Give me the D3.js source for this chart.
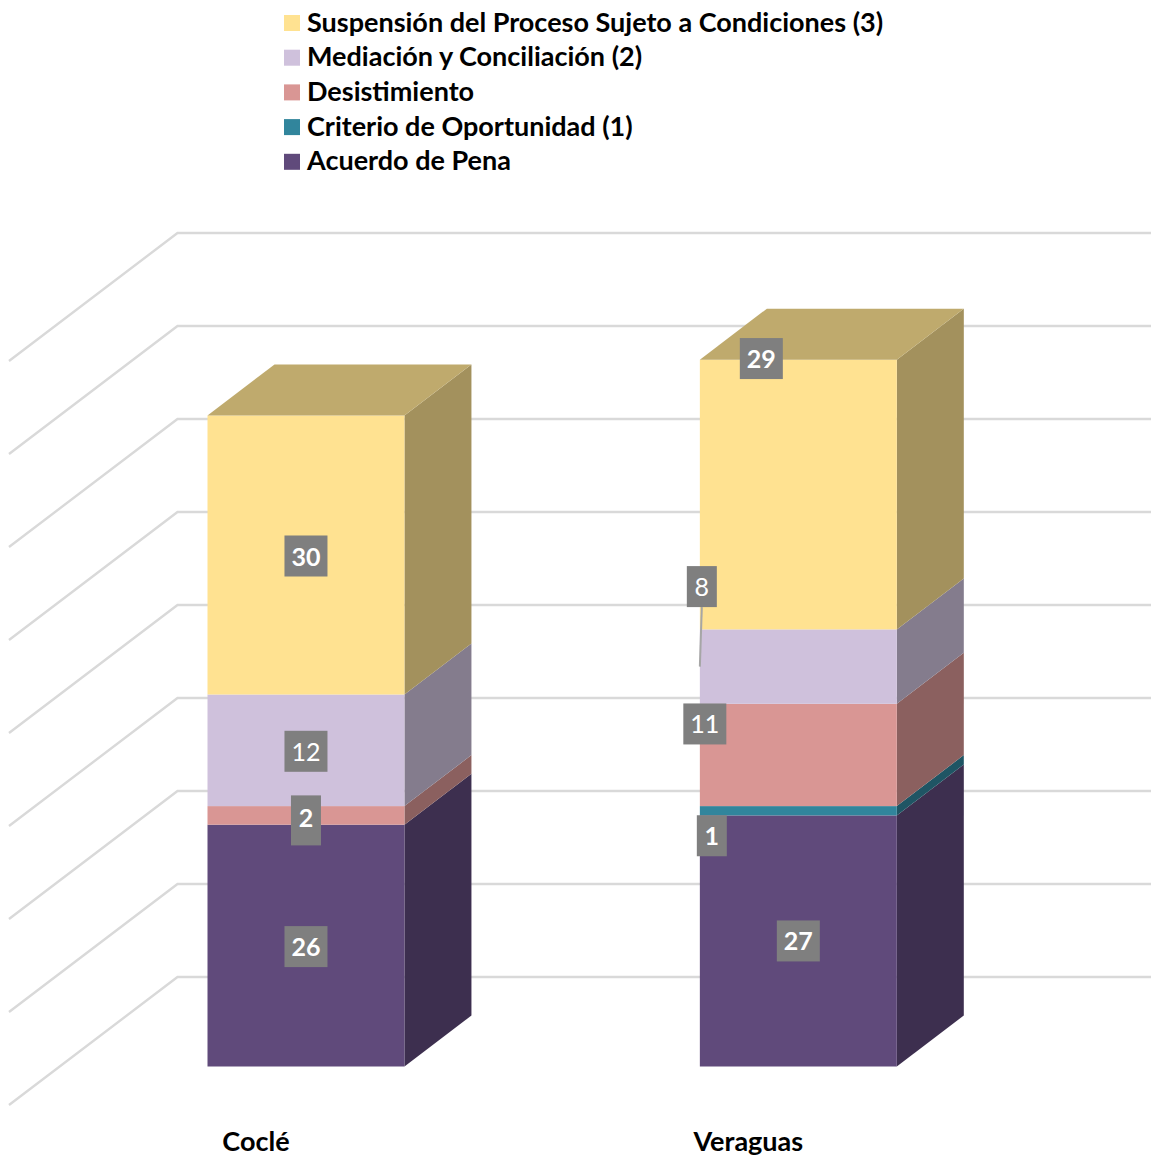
<!DOCTYPE html>
<html><head><meta charset="utf-8">
<style>html,body{margin:0;padding:0;background:#fff}svg{display:block}text{font-family:Lato,"Open Sans",sans-serif}</style>
<script src="https://cdn.jsdelivr.net/npm/d3@7"></script></head><body><div id="c"></div>
<script>
const categories = ["Coclé", "Veraguas"];
const seriesNames = ["Acuerdo de Pena", "Criterio de Oportunidad (1)", "Desistimiento", "Mediación y Conciliación (2)", "Suspensión del Proceso Sujeto a Condiciones (3)"];
const acuerdo = [26, 27];
const criterio = [0, 1];
const desistimiento = [2, 11];
const mediacion = [12, 8];
const suspension = [30, 29];
const seriesColors = ["#604a7b", "#31859c", "#d99694", "#cfc1dc", "#ffe291"];
const yTicks = [0, 10, 20, 30, 40, 50, 60, 70, 80];
// label placement overrides: [category, series] -> px shift from segment centre, weight
const labelNudge = {
  "0-0": {dx: 0, dy: 1, w: 700}, "0-2": {dx: 0, dy: 5, w: 700, tall: 50, tdy: -3}, "0-3": {dx: 0, dy: 1, w: 400}, "0-4": {dx: 0, dy: 1, w: 700},
  "1-0": {dx: 0, dy: 0, w: 700}, "1-1": {dx: -86.5, dy: 25, w: 700}, "1-2": {dx: -93.5, dy: -31, w: 500},
  "1-3": {dx: -96.5, dy: -80, w: 400, leader: true}, "1-4": {dx: -37, dy: -136, w: 700}
};

const W = 1151, H = 1156;
const svg = d3.select("#c").append("svg").attr("width", W).attr("height", H);
const series = [acuerdo, criterio, desistimiento, mediacion, suspension];

const y = d3.scaleLinear().domain([0, 80]).range([1066.5, 322.5]);
const x = d3.scaleBand().domain(categories).range([207.5, 896.8]).paddingInner(0.6);
const depth = {dx: 67, dy: -51};
const wall = {dx: 168.5, dy: -128, floorFrontX: 9, floorFrontY: 1105};
const yBack = v => wall.floorFrontY + wall.dy - (y(0) - y(v));

// gridlines
const grid = svg.append("g").attr("fill", "none").attr("stroke", "#d9d9d9").attr("stroke-width", 2.4);
grid.selectAll("path").data(yTicks).join("path").attr("d", v => {
  const by = yBack(v), fy = by - wall.dy;
  return `M${wall.floorFrontX},${fy}L${wall.floorFrontX + wall.dx},${by}L${W},${by}`;
});

// bars
const shade = (c, k) => { const r = d3.rgb(c); return d3.rgb(r.r * k, r.g * k, r.b * k).formatHex(); };
const bars = svg.append("g");
const labels = [];
categories.forEach((cat, ci) => {
  let cum = 0;
  const x0 = x(cat), x1 = x0 + x.bandwidth();
  const segs = [];
  series.forEach((vals, si) => {
    const v = vals[ci];
    if (v > 0) segs.push({si, v, a: cum, b: cum + v});
    cum += v;
  });
  segs.forEach((s, idx) => {
    const c = seriesColors[s.si], yA = y(s.a), yB = y(s.b);
    bars.append("path").attr("fill", shade(c, 0.64)).attr("d",
      `M${x1},${yA}L${x1 + depth.dx},${yA + depth.dy}L${x1 + depth.dx},${yB + depth.dy}L${x1},${yB}Z`);
    bars.append("rect").attr("x", x0).attr("y", yB).attr("width", x1 - x0).attr("height", yA - yB).attr("fill", c);
    if (idx === segs.length - 1) {
      bars.append("path").attr("fill", shade(c, 0.75)).attr("d",
        `M${x0},${yB}L${x1},${yB}L${x1 + depth.dx},${yB + depth.dy}L${x0 + depth.dx},${yB + depth.dy}Z`);
    }
    labels.push({ci, si: s.si, v: s.v, cx: (x0 + x1) / 2, cy: (yA + yB) / 2, x0});
  });
});

// data labels
const lg = svg.append("g");
labels.forEach(l => {
  const n = labelNudge[`${l.ci}-${l.si}`] || {dx: 0, dy: 0, w: 700};
  const str = String(l.v), bw = str.length > 1 ? 43 : 30, bh = n.tall || 41;
  const cx = l.cx + n.dx, cy = l.cy + n.dy;
  if (n.leader) {
    lg.append("line").attr("x1", cx).attr("y1", cy + bh / 2).attr("x2", l.x0).attr("y2", l.cy)
      .attr("stroke", "#a6a6a6").attr("stroke-width", 2);
  }
  lg.append("rect").attr("x", cx - bw / 2).attr("y", cy - bh / 2).attr("width", bw).attr("height", bh).attr("fill", "#7f7f7f");
  lg.append("text").attr("x", cx).attr("y", cy + 9.5 + (n.tdy || 0)).attr("text-anchor", "middle")
    .attr("font-size", 25).attr("font-weight", n.w).attr("fill", "#fff").text(str);
});

// category labels
svg.append("g").selectAll("text").data(categories).join("text")
  .attr("x", d => x(d) + x.bandwidth() / 2 - 50).attr("y", 1151)
  .attr("text-anchor", "middle").attr("font-size", 27).attr("font-weight", 700).attr("fill", "#000").text(d => d);

// legend (reverse order)
const leg = svg.append("g").selectAll("g").data(d3.range(seriesNames.length).reverse()).join("g")
  .attr("transform", (d, i) => `translate(284,${15 + i * 34.7})`);
leg.append("rect").attr("width", 16).attr("height", 16).attr("fill", d => seriesColors[d]);
leg.append("text").attr("x", 23).attr("y", 16.5).attr("font-size", 27).attr("font-weight", 700).attr("fill", "#000").text(d => seriesNames[d]);
</script></body></html>
